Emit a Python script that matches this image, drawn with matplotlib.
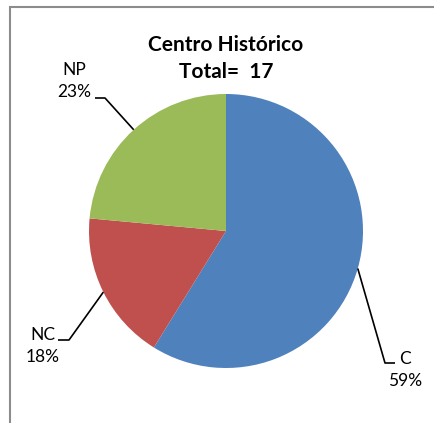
import numpy as np
import matplotlib
matplotlib.use("Agg")
import matplotlib.pyplot as plt
from matplotlib.patches import Rectangle

# Data
categories = ["C", "NC", "NP"]
counts = [10, 3, 4]
percent_labels = ["59%", "18%", "23%"]
colors = ["#4F81BD", "#C0504D", "#9BBB59"]
title_lines = ["Centro Histórico", "Total=  17"]

W, H = 434, 423
fig = plt.figure(figsize=(W / 100, H / 100), dpi=100)
ax = fig.add_axes([0, 0, 1, 1])

# outer chart border
fig.patches.append(Rectangle((10 / W, -0.05), 1.2, (H - 7) / H + 0.05,
                             transform=fig.transFigure, fill=False,
                             edgecolor="#8c8c8c", linewidth=1.5))

cx, cy, r = 226, H - 231, 137
wedges, _ = ax.pie(counts, colors=colors, startangle=90, counterclock=False,
                   center=(cx, cy), radius=r, frame=True,
                   wedgeprops=dict(linewidth=0))
ax.set_xlim(0, W)
ax.set_ylim(0, H)
ax.set_aspect("equal")
ax.axis("off")

font = "Lato"
ax.text(cx, H - 45, title_lines[0], ha="center", va="center",
        fontsize=15, fontweight="bold", family=font)
ax.text(cx, H - 72, title_lines[1], ha="center", va="center",
        fontsize=15, fontweight="bold", family=font)

# label layout: (elbow point, horizontal end, label centre) in pixel space (y down)
layout = {
    "C": dict(elbow=(385, 363), end=(395, 363), text=(405, 370)),
    "NC": dict(elbow=(69, 340), end=(58, 340), text=(43, 346)),
    "NP": dict(elbow=(105, 98), end=(95, 98), text=(74, 81)),
}

for w, cat, pct in zip(wedges, categories, percent_labels):
    mid = np.deg2rad((w.theta1 + w.theta2) / 2)
    ax_x = cx + r * np.cos(mid)
    ax_y = cy + r * np.sin(mid)
    L = layout[cat]
    xs = [ax_x, L["elbow"][0], L["end"][0]]
    ys = [ax_y, H - L["elbow"][1], H - L["end"][1]]
    ax.plot(xs, ys, color="black", linewidth=1.2, solid_capstyle="butt")
    ax.text(L["text"][0], H - L["text"][1], f"{cat}\n{pct}", ha="center",
            va="center", fontsize=12.5, family=font, linespacing=1.4)

fig.savefig("out.png", dpi=100)
